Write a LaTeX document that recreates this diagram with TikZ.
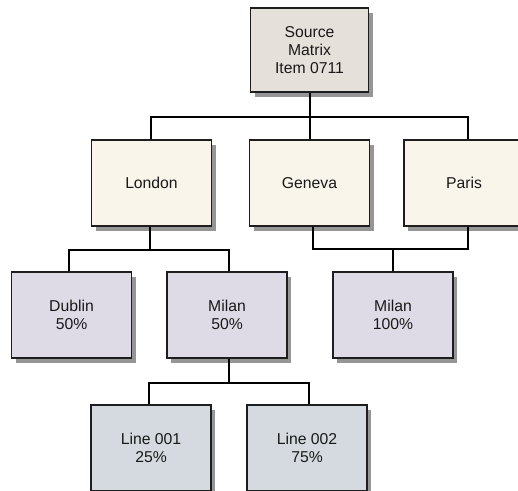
\documentclass[tikz,border=0pt]{standalone}
\usepackage{fontspec}
\setmainfont{Liberation Sans}
\usetikzlibrary{shadows}
\definecolor{srcfill}{RGB}{229,224,218}
\definecolor{cityfill}{RGB}{249,245,235}
\definecolor{subfill}{RGB}{222,219,230}
\definecolor{linefill}{RGB}{213,218,224}
\definecolor{shadowgray}{RGB}{150,150,150}
\definecolor{edgegray}{RGB}{30,30,30}
\definecolor{txtgray}{RGB}{25,25,25}
\tikzset{
  box/.style={draw=edgegray, line width=1pt, minimum width=90pt, minimum height=64.5pt,
    inner sep=0pt, align=center, text=txtgray,
    font=\fontsize{11.8}{13.6}\selectfont,
    drop shadow={shadow xshift=3.2pt, shadow yshift=-3.6pt, fill=shadowgray, opacity=1}},
  srcbox/.style={box, fill=srcfill, minimum width=88.5pt, minimum height=63pt},
  citybox/.style={box, fill=cityfill},
  subbox/.style={box, fill=subfill},
  linebox/.style={box, fill=linefill},
  conn/.style={draw=black, line width=1pt}
}
\begin{document}
\begin{tikzpicture}[x=0.75pt, y=-0.75pt]
\useasboundingbox (0,0) rectangle (518,491);
\clip (0,0) rectangle (518,491);
\node[srcbox] (src) at (309.5,50) {Source\\Matrix\\Item 0711};
\node[citybox] (london) at (151.5,183) {London};
\node[citybox] (geneva) at (309.5,183) {Geneva};
\node[citybox] (paris) at (464,183) {Paris};
\node[subbox] (dublin) at (71.5,315) {Dublin\\50\%};
\node[subbox] (milanA) at (227,315) {Milan\\50\%};
\node[subbox] (milanB) at (393,315) {Milan\\100\%};
\node[linebox] (l1) at (151,448) {Line 001\\25\%};
\node[linebox] (l2) at (307,448) {Line 002\\75\%};
\coordinate (busA) at (310,117);
\coordinate (busB) at (150,250);
\coordinate (busC) at (393,249);
\coordinate (busD) at (229,383);
\draw[conn] ([xshift=0.4pt]src.south) -- ([xshift=0.4pt]geneva.north);
\draw[conn] ([xshift=-0.4pt]london.north) |- (busA) -| ([xshift=3pt]paris.north);
\draw[conn] ([xshift=-1.1pt]london.south) -- ([xshift=-1.1pt]london.south |- busB);
\draw[conn] ([xshift=-1.9pt]dublin.north) |- (busB) -| ([xshift=1.5pt]milanA.north);
\draw[conn] ([xshift=2.6pt]geneva.south) |- (busC) -| ([xshift=3pt]paris.south);
\draw[conn] (milanB.north) -- (busC);
\draw[conn] ([xshift=1.5pt]milanA.south) -- (busD);
\draw[conn] ([xshift=-1.5pt]l1.north) |- (busD) -| ([xshift=1.5pt]l2.north);
\end{tikzpicture}
\end{document}
